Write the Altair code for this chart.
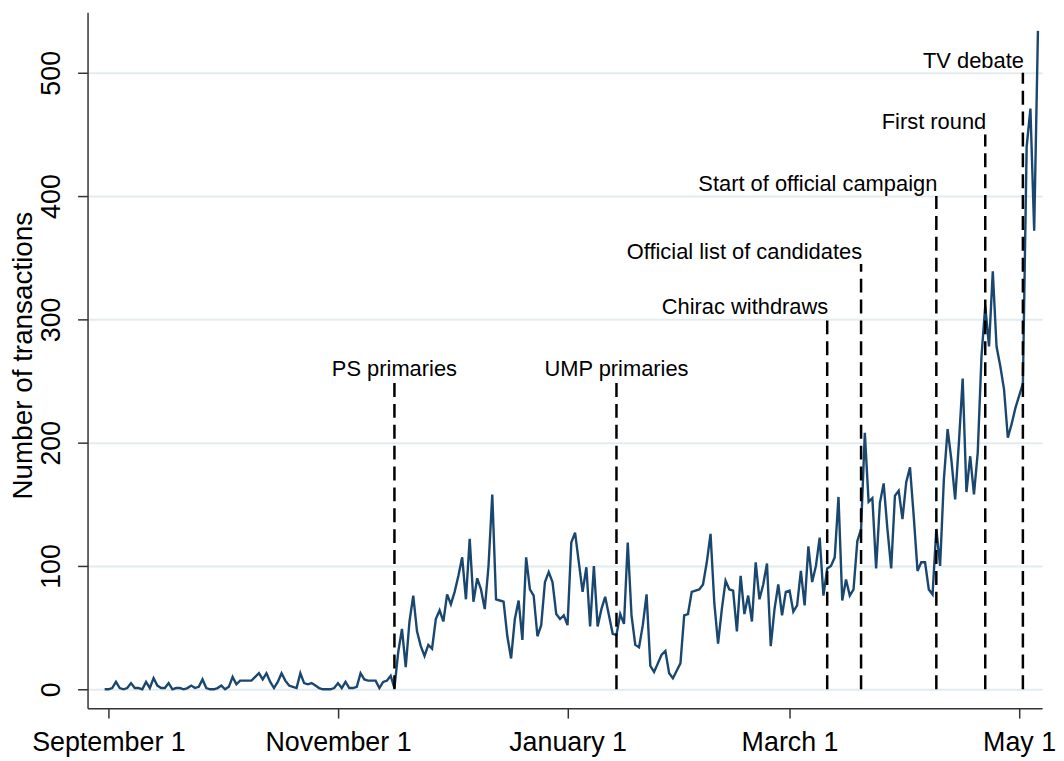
import altair as alt
import pandas as pd

# ---- data ----
start_date = "2006-08-31"
ref_date = "2006-09-01"

transactions = [
    0, 0, 1, 6, 1, 0, 1, 5, 1, 1,          # Aug 31 - Sep 9
    0, 6, 1, 9, 3, 1, 1, 5, 0, 1,
    1, 0, 1, 3, 1, 2, 8, 1, 0, 0,
    1, 3, 0, 2, 10, 4, 7, 7, 7, 7,
    10, 13, 8, 13, 6, 1, 6, 13, 7, 3,
    2, 1, 13, 5, 4, 5, 3, 1, 0, 0,
    0, 1, 5, 1, 6, 1, 1, 2, 13, 8,
    7, 7, 7, 1, 6, 7, 11, 1, 30, 49,
    18, 55, 76, 47, 35, 27, 36, 33, 57, 64,
    55, 77, 69, 79, 92, 107, 73, 122, 71, 90,
    81, 65, 100, 158, 73, 72, 71, 43, 25, 57,
    72, 40, 107, 81, 76, 43, 52, 87, 95, 87,
    61, 57, 60, 52, 119, 127, 103, 79, 99, 51,
    100, 51, 65, 75, 60, 45, 44, 61, 53, 119,
    60, 36, 34, 52, 77, 19, 14, 21, 28, 31,
    13, 9, 15, 21, 60, 61, 79, 80, 81, 85,
    103, 126, 70, 37, 65, 88, 81, 80, 47, 92,
    61, 76, 55, 103, 73, 85, 102, 35, 65, 85,
    60, 79, 80, 63, 68, 96, 68, 116, 87, 100,
    123, 76, 98, 100, 107, 156, 72, 89, 76, 81,
    120, 130, 208, 152, 155, 98, 151, 167, 130, 98,
    157, 161, 138, 168, 180, 140, 96, 103, 103, 81,
    77, 130, 100, 170, 211, 186, 154, 200, 252, 160,
    189, 158, 192, 270, 311, 278, 339, 278, 262, 243,
    204, 215, 228, 238, 248, 440, 471, 372, 534,
]

event_dates = ["2006-11-16", "2007-01-14", "2007-03-11", "2007-03-20",
               "2007-04-09", "2007-04-22", "2007-05-02"]
event_tops = [250, 250, 300, 345, 400, 450, 500]
event_labels = ["PS primaries", "UMP primaries", "Chirac withdraws",
                "Official list of candidates", "Start of official campaign",
                "First round", "TV debate"]
event_align = ["center", "center", "right", "right", "right", "right", "right"]

tick_days = [0, 61, 122, 181, 242]
tick_labels = ["September 1", "November 1", "January 1", "March 1", "May 1"]
y_ticks = [0, 100, 200, 300, 400, 500]

# ---- tables ----
dates = pd.date_range(start_date, periods=len(transactions), freq="D")
series = pd.DataFrame({
    "day": (dates - pd.Timestamp(ref_date)).days,
    "n": transactions,
})
events = pd.DataFrame({
    "day": (pd.to_datetime(event_dates) - pd.Timestamp(ref_date)).days,
    "base": 0,
    "top": event_tops,
    "label": event_labels,
    "align": event_align,
})

label_expr = " : ".join(
    f"datum.value == {d} ? '{t}'" for d, t in zip(tick_days, tick_labels)
) + " : ''"

FONT = "Liberation Sans"
x_scale = alt.Scale(domain=[-5.55, 248.1], nice=False, zero=False)
y_scale = alt.Scale(domain=[-15.3, 549.2], nice=False, zero=False)

x_axis = alt.Axis(
    values=tick_days, labelExpr=label_expr, title=None, grid=False,
    tickSize=10, tickWidth=1.5, tickColor="#333333",
    domainColor="#333333", domainWidth=1.5,
    labelFont=FONT, labelFontSize=27, labelColor="black",
    labelPadding=12, labelOverlap=False, labelFlush=False,
)
y_axis = alt.Axis(
    values=y_ticks, title="Number of transactions", grid=True,
    gridColor="#e2ecef", gridWidth=2,
    tickSize=10, tickWidth=1.5, tickColor="#333333",
    domainColor="#333333", domainWidth=1.5,
    labelFont=FONT, labelFontSize=27, labelColor="black",
    labelAngle=270, labelAlign="center", labelBaseline="bottom",
    labelPadding=12,
    titleFont=FONT, titleFontSize=28, titleFontWeight="normal",
    titleColor="black", titleAngle=270, titleAlign="center",
    titleBaseline="middle", titleX=-64, titleY=345,
)

line = alt.Chart(series).mark_line(color="#1a476f", strokeWidth=2.4).encode(
    x=alt.X("day:Q", scale=x_scale, axis=x_axis),
    y=alt.Y("n:Q", scale=y_scale, axis=y_axis),
)

rules = alt.Chart(events).mark_rule(
    color="black", strokeWidth=2.5, strokeDash=[14, 7]
).encode(
    x="day:Q",
    y="base:Q",
    y2="top:Q",
)

text_center = alt.Chart(events).transform_filter(
    alt.datum.align == "center"
).mark_text(
    align="center", baseline="alphabetic", dy=-5,
    font=FONT, fontSize=22, color="black",
).encode(x="day:Q", y="top:Q", text="label:N")

text_right = alt.Chart(events).transform_filter(
    alt.datum.align == "right"
).mark_text(
    align="right", baseline="alphabetic", dy=-5, dx=1,
    font=FONT, fontSize=22, color="black",
).encode(x="day:Q", y="top:Q", text="label:N")

chart = alt.layer(line, rules, text_center, text_right).properties(
    width=960, height=700,
    autosize=alt.AutoSizeParams(type="none"),
    padding={"left": 80, "top": 2, "right": 14, "bottom": 50},
    background="white",
).configure_view(strokeOpacity=0)

chart.save("out.html", embed_options={"renderer": "svg", "actions": False})
